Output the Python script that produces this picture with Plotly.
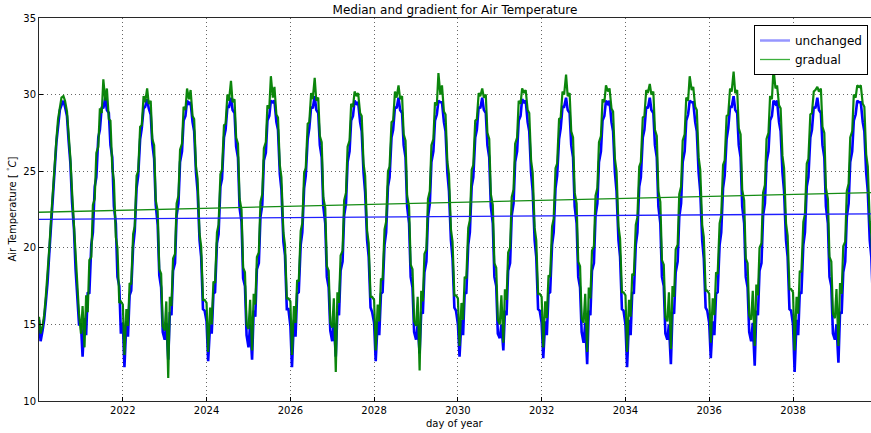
import pandas as pd
import plotly.graph_objects as go

# Semi-monthly samples (24 per year), 2020 .. 2039
unchanged = [
    15.3, 13.9, 14.6, 15.3, 16.5, 17.7, 19.8, 21.4, 23.6, 25.0, 26.9, 27.9, 29.0, 29.3, 29.6, 29.2, 28.6, 27.0, 25.5, 23.0, 21.2, 18.6, 16.9, 15.0,  # 2020
    15.0, 12.9, 15.4, 14.3, 17.1, 17.0, 20.2, 21.0, 24.0, 24.6, 27.2, 27.7, 29.2, 29.1, 29.8, 29.0, 28.8, 26.7, 25.9, 22.7, 21.6, 18.1, 17.5, 14.4,  # 2021
    15.1, 12.2, 15.2, 14.2, 16.9, 17.2, 20.1, 21.1, 23.9, 24.7, 27.1, 27.8, 29.1, 29.2, 29.7, 29.1, 28.7, 26.8, 25.8, 22.8, 21.5, 18.2, 17.4, 14.5,  # 2022
    14.0, 15.1, 12.7, 15.8, 15.6, 18.5, 19.0, 22.1, 22.9, 25.6, 26.3, 28.3, 28.6, 29.6, 29.4, 29.5, 28.2, 27.6, 24.9, 23.7, 20.5, 19.4, 16.0, 15.9,  # 2023
    15.2, 12.6, 15.0, 14.4, 17.0, 17.1, 20.3, 20.9, 24.0, 24.5, 27.2, 27.7, 29.2, 29.2, 29.8, 29.0, 28.8, 26.6, 25.9, 22.6, 21.7, 18.0, 17.5, 14.3,  # 2024
    13.5, 15.0, 12.7, 15.9, 15.5, 18.6, 19.0, 22.0, 22.8, 25.7, 26.2, 28.3, 28.6, 29.6, 29.5, 29.6, 28.2, 27.7, 24.8, 23.8, 20.4, 19.5, 16.0, 16.0,  # 2025
    14.9, 12.2, 15.3, 14.2, 17.0, 17.1, 20.2, 21.0, 23.9, 24.7, 27.1, 27.8, 29.2, 29.1, 29.9, 29.0, 28.8, 26.7, 25.9, 22.7, 21.6, 18.1, 17.4, 14.6,  # 2026
    13.9, 15.1, 12.9, 15.8, 15.6, 18.5, 19.1, 22.1, 22.9, 25.6, 26.3, 28.3, 28.6, 29.6, 29.4, 29.5, 28.2, 27.6, 24.9, 23.6, 20.5, 19.4, 16.1, 15.8,  # 2027
    15.1, 12.6, 15.2, 14.3, 17.0, 17.1, 20.2, 21.0, 24.0, 24.6, 27.2, 27.7, 29.2, 29.1, 29.8, 29.0, 28.8, 26.7, 25.9, 22.7, 21.6, 18.1, 17.4, 14.5,  # 2028
    14.0, 15.0, 13.1, 15.8, 15.7, 18.4, 19.1, 22.0, 22.9, 25.6, 26.3, 28.3, 28.7, 29.6, 29.5, 29.5, 28.2, 27.6, 24.9, 23.7, 20.5, 19.3, 16.1, 15.9,  # 2029
    15.0, 12.9, 15.3, 14.3, 17.1, 17.0, 20.2, 21.0, 24.0, 24.6, 27.2, 27.7, 29.2, 29.1, 29.8, 29.0, 28.8, 26.7, 25.9, 22.7, 21.6, 18.1, 17.5, 14.4,  # 2030
    14.1, 15.0, 13.3, 15.9, 15.6, 18.5, 19.0, 22.1, 22.9, 25.6, 26.3, 28.3, 28.6, 29.7, 29.5, 29.6, 28.2, 27.6, 24.9, 23.7, 20.5, 19.4, 16.0, 15.9,  # 2031
    15.1, 12.8, 15.2, 14.3, 17.0, 17.1, 20.2, 21.0, 23.9, 24.7, 27.1, 27.8, 29.2, 29.2, 29.8, 29.0, 28.8, 26.7, 25.9, 22.7, 21.6, 18.1, 17.4, 14.5,  # 2032
    13.8, 15.1, 12.4, 15.9, 15.6, 18.5, 19.0, 22.1, 22.9, 25.6, 26.3, 28.3, 28.6, 29.6, 29.4, 29.6, 28.2, 27.6, 24.9, 23.7, 20.5, 19.4, 16.0, 15.9,  # 2033
    15.0, 12.2, 15.3, 14.3, 17.1, 17.0, 20.2, 21.0, 24.0, 24.6, 27.2, 27.7, 29.2, 29.1, 29.8, 29.0, 28.8, 26.7, 25.9, 22.7, 21.6, 18.1, 17.5, 14.4,  # 2034
    14.0, 15.0, 12.4, 15.8, 15.7, 18.4, 19.1, 22.0, 22.9, 25.6, 26.3, 28.3, 28.7, 29.6, 29.5, 29.5, 28.2, 27.6, 24.9, 23.7, 20.5, 19.3, 16.1, 15.9,  # 2035
    15.1, 12.8, 15.2, 14.3, 17.0, 17.1, 20.2, 21.0, 23.9, 24.7, 27.1, 27.8, 29.2, 29.2, 29.9, 29.0, 28.8, 26.7, 25.9, 22.7, 21.6, 18.1, 17.4, 14.5,  # 2036
    13.9, 15.1, 12.3, 15.9, 15.6, 18.5, 19.0, 22.1, 22.9, 25.6, 26.3, 28.3, 28.6, 29.6, 29.4, 29.6, 28.2, 27.6, 24.9, 23.7, 20.5, 19.4, 16.0, 15.9,  # 2037
    15.0, 11.9, 15.3, 14.3, 17.1, 17.0, 20.2, 21.0, 24.0, 24.6, 27.2, 27.7, 29.2, 29.1, 29.8, 29.0, 28.8, 26.7, 25.9, 22.7, 21.6, 18.1, 17.5, 14.4,  # 2038
    14.0, 15.0, 12.5, 15.8, 15.7, 18.4, 19.1, 22.0, 22.9, 25.6, 26.3, 28.3, 28.7, 29.6, 29.5, 29.5, 28.2, 27.6, 24.9, 23.7, 20.5, 19.4, 16.1, 15.9,  # 2039
]

gradual = [
    15.5, 14.4, 14.9, 15.6, 16.9, 18.2, 20.1, 21.9, 23.9, 25.5, 27.1, 28.4, 29.3, 29.8, 29.9, 29.6, 28.9, 27.6, 25.8, 23.7, 21.4, 19.3, 17.1, 15.7,  # 2020
    14.4, 16.2, 13.5, 16.9, 15.8, 19.2, 19.4, 22.8, 23.2, 26.2, 26.6, 29.1, 28.8, 31.0, 29.6, 30.4, 28.4, 28.3, 25.2, 24.4, 20.7, 20.0, 16.4, 16.5,  # 2021
    16.3, 13.0, 16.0, 14.9, 17.7, 17.6, 20.9, 21.4, 24.7, 25.0, 27.9, 28.0, 29.9, 29.5, 30.4, 29.4, 29.6, 27.1, 26.7, 23.1, 22.4, 18.6, 18.3, 14.9,  # 2022
    14.6, 16.5, 11.5, 16.8, 16.2, 19.3, 19.6, 22.9, 23.4, 26.4, 26.8, 29.2, 29.0, 30.4, 29.7, 30.3, 28.6, 28.4, 25.3, 24.5, 20.9, 20.1, 16.6, 16.6,  # 2023
    16.4, 13.2, 16.1, 15.0, 17.8, 17.7, 21.0, 21.5, 24.8, 25.1, 28.0, 28.1, 30.0, 29.6, 30.9, 29.5, 29.7, 27.2, 26.8, 23.2, 22.5, 18.7, 18.4, 15.0,  # 2024
    14.7, 16.6, 13.3, 17.0, 16.3, 19.4, 19.7, 23.0, 23.5, 26.5, 26.9, 29.3, 29.1, 31.2, 29.8, 30.5, 28.7, 28.5, 25.4, 24.6, 21.0, 20.2, 16.7, 16.7,  # 2025
    16.5, 13.0, 16.2, 15.1, 17.9, 17.8, 21.1, 21.6, 24.9, 25.2, 28.1, 28.2, 30.1, 29.7, 31.1, 29.6, 29.8, 27.3, 26.9, 23.3, 22.6, 18.8, 18.5, 15.1,  # 2026
    14.8, 16.7, 11.9, 17.1, 16.4, 19.5, 19.8, 23.1, 23.6, 26.6, 27.0, 29.4, 29.2, 30.2, 29.9, 30.1, 28.8, 28.6, 25.5, 24.7, 21.1, 20.3, 16.8, 16.8,  # 2027
    16.6, 13.3, 16.3, 15.2, 18.0, 17.9, 21.2, 21.7, 25.0, 25.3, 28.2, 28.3, 30.2, 29.8, 30.6, 29.7, 29.9, 27.4, 27.0, 23.4, 22.7, 18.9, 18.6, 15.2,  # 2028
    14.9, 16.8, 12.0, 17.2, 16.5, 19.6, 19.9, 23.2, 23.7, 26.7, 27.1, 29.5, 29.3, 31.4, 30.0, 30.6, 28.9, 28.7, 25.6, 24.8, 21.2, 20.4, 16.9, 16.9,  # 2029
    16.7, 13.6, 16.4, 15.3, 18.1, 18.0, 21.3, 21.8, 25.1, 25.4, 28.3, 28.4, 30.1, 29.9, 30.4, 29.8, 30.0, 27.5, 27.1, 23.5, 22.8, 19.0, 18.7, 15.3,  # 2030
    15.0, 16.9, 13.8, 17.3, 16.6, 19.7, 20.0, 23.3, 23.8, 26.8, 27.2, 29.6, 29.4, 30.4, 30.1, 30.3, 29.0, 28.8, 25.7, 24.9, 21.3, 20.5, 17.0, 17.0,  # 2031
    16.8, 13.5, 16.5, 15.4, 18.2, 18.1, 21.4, 21.9, 25.2, 25.5, 28.4, 28.5, 30.2, 30.0, 31.3, 29.9, 30.1, 27.6, 27.2, 23.6, 22.9, 19.1, 18.8, 15.4,  # 2032
    15.1, 17.0, 13.2, 17.4, 16.7, 19.8, 20.1, 23.4, 23.9, 26.9, 27.3, 29.7, 29.5, 30.6, 30.2, 30.4, 29.1, 28.9, 25.8, 25.0, 21.4, 20.6, 17.1, 17.1,  # 2033
    16.9, 13.2, 16.6, 15.5, 18.3, 18.2, 21.5, 22.0, 25.3, 25.6, 28.5, 28.6, 30.3, 30.1, 30.7, 30.0, 30.2, 27.7, 27.3, 23.7, 23.0, 19.2, 18.9, 15.5,  # 2034
    15.2, 17.1, 13.4, 17.5, 16.8, 19.9, 20.2, 23.5, 24.0, 27.0, 27.4, 29.8, 29.6, 31.2, 30.3, 30.5, 29.2, 29.0, 25.9, 25.1, 21.5, 20.7, 17.2, 17.2,  # 2035
    17.0, 13.8, 16.7, 15.6, 18.4, 18.3, 21.6, 22.1, 25.4, 25.7, 28.6, 28.7, 30.4, 30.2, 31.5, 30.1, 30.3, 27.8, 27.4, 23.8, 23.1, 19.3, 19.0, 15.6,  # 2036
    15.3, 17.2, 13.6, 17.6, 16.9, 20.0, 20.3, 23.6, 24.1, 27.1, 27.5, 29.9, 29.7, 31.7, 30.4, 30.6, 29.3, 29.1, 26.0, 25.2, 21.6, 20.8, 17.3, 17.3,  # 2037
    17.1, 13.3, 16.8, 15.7, 18.5, 18.4, 21.7, 22.2, 25.5, 25.8, 28.7, 28.8, 30.2, 30.3, 30.5, 30.2, 30.4, 27.9, 27.5, 23.9, 23.2, 19.4, 19.1, 15.7,  # 2038
    15.4, 17.3, 13.6, 17.7, 17.0, 20.1, 20.4, 23.7, 24.2, 27.2, 27.6, 30.0, 29.8, 30.6, 30.5, 30.6, 29.4, 29.2, 26.1, 25.3, 21.7, 20.9, 17.4, 17.4,  # 2039
]

# Linear trend (gradient) lines, start and end values
trend_dates = ["2020-01-01", "2039-11-12"]
unchanged_trend = [21.86, 22.22]
gradual_trend = [22.32, 23.60]

tick_dates = ["2022-01-01", "2024-01-01", "2026-01-01", "2028-01-01", "2030-01-01",
              "2032-01-01", "2034-01-01", "2036-01-01", "2038-01-01"]
tick_labels = ["2022", "2024", "2026", "2028", "2030", "2032", "2034", "2036", "2038"]
y_ticks = [10, 15, 20, 25, 30, 35]

dates = pd.date_range(start="2020-01-01", periods=len(unchanged), freq="SMS")

FONT = "DejaVu Sans"
W, H = 871, 433
L, R, T, B = 39, 0, 18, 32

fig = go.Figure()
fig.add_trace(go.Scatter(x=dates, y=unchanged, mode="lines",
                         line=dict(color="rgb(0,0,255)", width=2.6),
                         showlegend=False, hoverinfo="skip"))
fig.add_trace(go.Scatter(x=dates, y=gradual, mode="lines",
                         line=dict(color="rgb(0,128,0)", width=2.2),
                         opacity=0.95, showlegend=False, hoverinfo="skip"))
fig.add_trace(go.Scatter(x=trend_dates, y=unchanged_trend, mode="lines",
                         line=dict(color="rgb(30,30,255)", width=1.3),
                         showlegend=False, hoverinfo="skip"))
fig.add_trace(go.Scatter(x=trend_dates, y=gradual_trend, mode="lines",
                         line=dict(color="rgb(20,140,20)", width=1.3),
                         showlegend=False, hoverinfo="skip"))
# legend entries
fig.add_trace(go.Scatter(x=[None], y=[None], mode="lines", name="unchanged",
                         line=dict(color="rgb(150,150,255)", width=2.5)))
fig.add_trace(go.Scatter(x=[None], y=[None], mode="lines", name="gradual",
                         line=dict(color="rgb(60,175,60)", width=1.3)))

plot_w = W - L - R
plot_h = H - T - B

fig.update_layout(
    width=W, height=H,
    margin=dict(l=L, r=R, t=T, b=B, autoexpand=False),
    paper_bgcolor="white", plot_bgcolor="white",
    font=dict(family=FONT, size=10, color="black"),
    title=dict(text="Median and gradient for Air Temperature",
               x=0.5, xref="paper", xanchor="center",
               y=1 - 10 / H, yref="container", yanchor="middle",
               font=dict(family=FONT, size=12, color="black")),
    legend=dict(x=(868 - L) / plot_w, y=1 - (25 - T) / plot_h,
                xanchor="right", yanchor="top",
                bgcolor="white", bordercolor="black", borderwidth=1,
                font=dict(family=FONT, size=12, color="black"),
                itemwidth=30, tracegroupgap=0),
    showlegend=True,
    annotations=[
        dict(text="day of year", xref="paper", yref="paper",
             x=0.5, y=-(423 - (H - B)) / plot_h, xanchor="center", yanchor="middle",
             showarrow=False, font=dict(family=FONT, size=10, color="black")),
        dict(text="Air Temperature [ <sup>°</sup><i>C</i>]", xref="paper", yref="paper",
             x=-(L - 11) / plot_w, y=0.5, xanchor="center", yanchor="middle",
             textangle=-90, showarrow=False,
             font=dict(family=FONT, size=10, color="black")),
    ],
)
fig.update_xaxes(
    type="date", range=trend_dates, automargin=False,
    tickmode="array", tickvals=tick_dates, ticktext=tick_labels,
    showgrid=True, gridcolor="rgba(0,0,0,0.6)", griddash="1px,3px", gridwidth=1,
    showline=True, linecolor="rgb(40,40,40)", linewidth=1, mirror=True,
    ticks="inside", ticklen=4, tickcolor="black",
    zeroline=False,
    tickfont=dict(family=FONT, size=10, color="black"),
)
fig.update_yaxes(
    range=[10, 35], automargin=False,
    tickmode="array", tickvals=y_ticks, ticktext=[str(v) for v in y_ticks],
    showgrid=True, gridcolor="rgba(0,0,0,0.6)", griddash="1px,3px", gridwidth=1,
    showline=True, linecolor="rgb(40,40,40)", linewidth=1, mirror=False,
    ticks="inside", ticklen=4, tickcolor="black",
    zeroline=False,
    tickfont=dict(family=FONT, size=10, color="black"),
)

fig.write_html("out.html",
               config={"displayModeBar": False},
               post_script="document.body.style.margin='0';document.body.style.padding='0';")
